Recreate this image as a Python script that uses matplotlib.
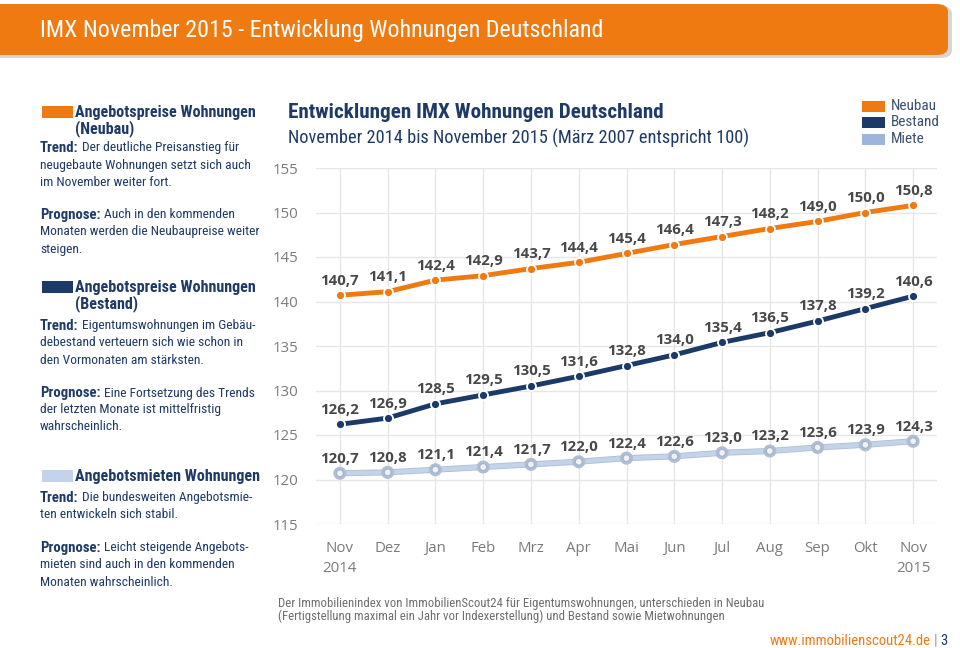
import matplotlib
matplotlib.use("Agg")
import matplotlib.pyplot as plt
from matplotlib import font_manager
from matplotlib.patches import FancyBboxPatch, Rectangle
import matplotlib.patheffects as pe

# ---------------- data ----------------
months = ["Nov\n2014", "Dez", "Jan", "Feb", "Mrz", "Apr", "Mai", "Jun", "Jul", "Aug", "Sep", "Okt", "Nov\n2015"]
neubau = [140.7, 141.1, 142.4, 142.9, 143.7, 144.4, 145.4, 146.4, 147.3, 148.2, 149.0, 150.0, 150.8]
bestand = [126.2, 126.9, 128.5, 129.5, 130.5, 131.6, 132.8, 134.0, 135.4, 136.5, 137.8, 139.2, 140.6]
miete = [120.7, 120.8, 121.1, 121.4, 121.7, 122.0, 122.4, 122.6, 123.0, 123.2, 123.6, 123.9, 124.3]
yticks = [115, 120, 125, 130, 135, 140, 145, 150, 155]
legend_names = ["Neubau", "Bestand", "Miete"]

ORANGE = "#F07A12"
NAVY = "#1B3A68"
LIGHT = "#C3D3EA"
TXT = "#1E3A66"
GRAY = "#808080"


def pick(cands):
    for c in cands:
        try:
            font_manager.findfont(font_manager.FontProperties(family=c), fallback_to_default=False)
            return c
        except Exception:
            continue
    return "DejaVu Sans"


NARROW = pick(["Liberation Sans Narrow", "DejaVu Sans Condensed", "Roboto Condensed", "Open Sans"])
CHART = pick(["Open Sans", "Noto Sans", "DejaVu Sans"])

W, H = 960, 648
fig = plt.figure(figsize=(W / 100, H / 100), dpi=100)
fig.patch.set_facecolor("white")


def fx(x):
    return x / W


def fy(y):
    return 1 - y / H


# ---------------- header ----------------
shadow = FancyBboxPatch((fx(-20), fy(58)), fx(972), 52 / H,
                        boxstyle="round,pad=0,rounding_size=0.012",
                        transform=fig.transFigure, fc="#BBBBBB", ec="none", alpha=0.6, zorder=0)
fig.patches.append(shadow)
hdr = FancyBboxPatch((fx(-20), fy(55)), fx(968), 51 / H,
                     boxstyle="round,pad=0,rounding_size=0.012",
                     transform=fig.transFigure, fc=ORANGE, ec="none", zorder=1)
fig.patches.append(hdr)
fig.text(fx(40), fy(30), "IMX November 2015 - Entwicklung Wohnungen Deutschland",
         color="white", fontsize=17.3, family=NARROW, va="center", ha="left", zorder=2)

# ---------------- main axes ----------------
ax = fig.add_axes([fx(316), 1 - 524 / H, 621 / W, 356 / H])
x = list(range(len(months)))
ax.set_xlim(-0.5, 12.5)
ax.set_ylim(115, 155)
ax.set_yticks(yticks)
ax.set_yticklabels([str(v) for v in yticks])
ax.set_xticks(x)
ax.set_xticklabels(months)
ax.grid(True, color="#E6E6E6", lw=1.0)
ax.set_axisbelow(True)
for s in ax.spines.values():
    s.set_visible(False)
ax.tick_params(length=0, colors=GRAY, labelsize=10.8)
ax.tick_params(axis="y", pad=13)
ax.tick_params(axis="x", pad=12)
for lab in ax.get_xticklabels() + ax.get_yticklabels():
    lab.set_family(CHART)
    lab.set_color("#7A7A7A")
for lab in ax.get_xticklabels():
    lab.set_linespacing(1.5)

ax.plot(x, miete, color=LIGHT, lw=3.2, solid_capstyle="round", zorder=3,
        path_effects=[pe.Stroke(linewidth=4.4, foreground="#AEBED4"), pe.Normal()],
        marker="o", ms=5, mfc="#EEF2F8", mec="#A5B4CA", mew=0.9)
ax.plot(x, bestand, color=NAVY, lw=3.5, solid_capstyle="round", zorder=4,
        marker="o", ms=6.5, mfc=NAVY, mec="white", mew=1.3)
ax.plot(x, neubau, color=ORANGE, lw=3.5, solid_capstyle="round", zorder=5,
        marker="o", ms=6.5, mfc=ORANGE, mec="white", mew=1.3)

for series in (neubau, bestand, miete):
    for xi, v in zip(x, series):
        ax.annotate(f"{v:.1f}".replace(".", ","), (xi, v), xytext=(0, 10.5),
                    textcoords="offset points", ha="center", va="center",
                    fontsize=10.8, fontweight="bold", color="#484848", family=CHART, zorder=6)

# chart titles
fig.text(fx(288), fy(113), "Entwicklungen IMX Wohnungen Deutschland", color=TXT,
         fontsize=15.2, fontweight="bold", family=NARROW, va="center")
fig.text(fx(288), fy(138), "November 2014 bis November 2015 (März 2007 entspricht 100)", color=TXT,
         fontsize=13.2, family=NARROW, va="center")

# legend
for i, (name, col) in enumerate(zip(legend_names, [ORANGE, NAVY, "#9DB5DA"])):
    yy = 106 + i * 16.5
    fig.patches.append(Rectangle((fx(862), fy(yy + 5.5)), 23 / W, 11 / H,
                                 transform=fig.transFigure, fc=col, ec="none"))
    fig.text(fx(891), fy(yy), name, color="#3B5070", fontsize=11, family=NARROW, va="center")

# ---------------- left panel ----------------
renderer = fig.canvas.get_renderer()
BODY_FS = 9.7
BOLD_FS = 10.6
HEAD_FS = 11.6


def mixed(xp, yp, bold, rest):
    t = fig.text(fx(xp), fy(yp), bold, color=TXT, fontsize=BOLD_FS, fontweight="bold",
                 family=NARROW, va="center")
    bb = t.get_window_extent(renderer)
    fig.text(bb.x1 / W + fx(3.5), fy(yp), rest, color=TXT, fontsize=BODY_FS,
             family=NARROW, va="center")


def plain(xp, yp, s):
    fig.text(fx(xp), fy(yp), s, color=TXT, fontsize=BODY_FS, family=NARROW, va="center")


def head(yp, lines, col):
    fig.patches.append(Rectangle((fx(42), fy(yp + 6)), 31 / W, 12 / H,
                                 transform=fig.transFigure, fc=col, ec="none"))
    for k, s in enumerate(lines):
        fig.text(fx(75), fy(yp + 17 * k), s, color=TXT, fontsize=HEAD_FS, fontweight="bold",
                 family=NARROW, va="center")


head(112, ["Angebotspreise Wohnungen", "(Neubau)"], ORANGE)
mixed(40, 148, "Trend:", "Der deutliche Preisanstieg für")
plain(40, 165, "neugebaute Wohnungen setzt sich auch")
plain(40, 182, "im November weiter fort.")
mixed(40, 215, "Prognose:", "Auch in den kommenden")
plain(40, 232, "Monaten werden die Neubaupreise weiter")
plain(40, 249, "steigen.")

head(287, ["Angebotspreise Wohnungen", "(Bestand)"], NAVY)
mixed(40, 326, "Trend:", "Eigentumswohnungen im Gebäu-")
plain(40, 343, "debestand verteuern sich wie schon in")
plain(40, 360, "den Vormonaten am stärksten.")
mixed(40, 393, "Prognose:", "Eine Fortsetzung des Trends")
plain(40, 410, "der letzten Monate ist mittelfristig")
plain(40, 427, "wahrscheinlich.")

head(476, ["Angebotsmieten Wohnungen"], LIGHT)
mixed(40, 498, "Trend:", "Die bundesweiten Angebotsmie-")
plain(40, 515, "ten entwickeln sich stabil.")
mixed(40, 548, "Prognose:", "Leicht steigende Angebots-")
plain(40, 565, "mieten sind auch in den kommenden")
plain(40, 582, "Monaten wahrscheinlich.")

# ---------------- footer ----------------
fig.text(fx(278), fy(603), "Der Immobilienindex von ImmobilienScout24 für Eigentumswohnungen, unterschieden in Neubau",
         color="#6E6E6E", fontsize=9.2, family=NARROW, va="center")
fig.text(fx(278), fy(616), "(Fertigstellung maximal ein Jahr vor Indexerstellung) und Bestand sowie Mietwohnungen",
         color="#6E6E6E", fontsize=9.2, family=NARROW, va="center")
fig.text(fx(948), fy(641), "3", color=TXT, fontsize=10.5, family=NARROW, va="center", ha="right")
fig.text(fx(937), fy(641), "|", color="#999999", fontsize=10.5, family=NARROW, va="center", ha="right")
fig.text(fx(931), fy(641), "www.immobilienscout24.de", color=ORANGE, fontsize=10.5, family=NARROW,
         va="center", ha="right")

fig.savefig("out.png", dpi=100)
